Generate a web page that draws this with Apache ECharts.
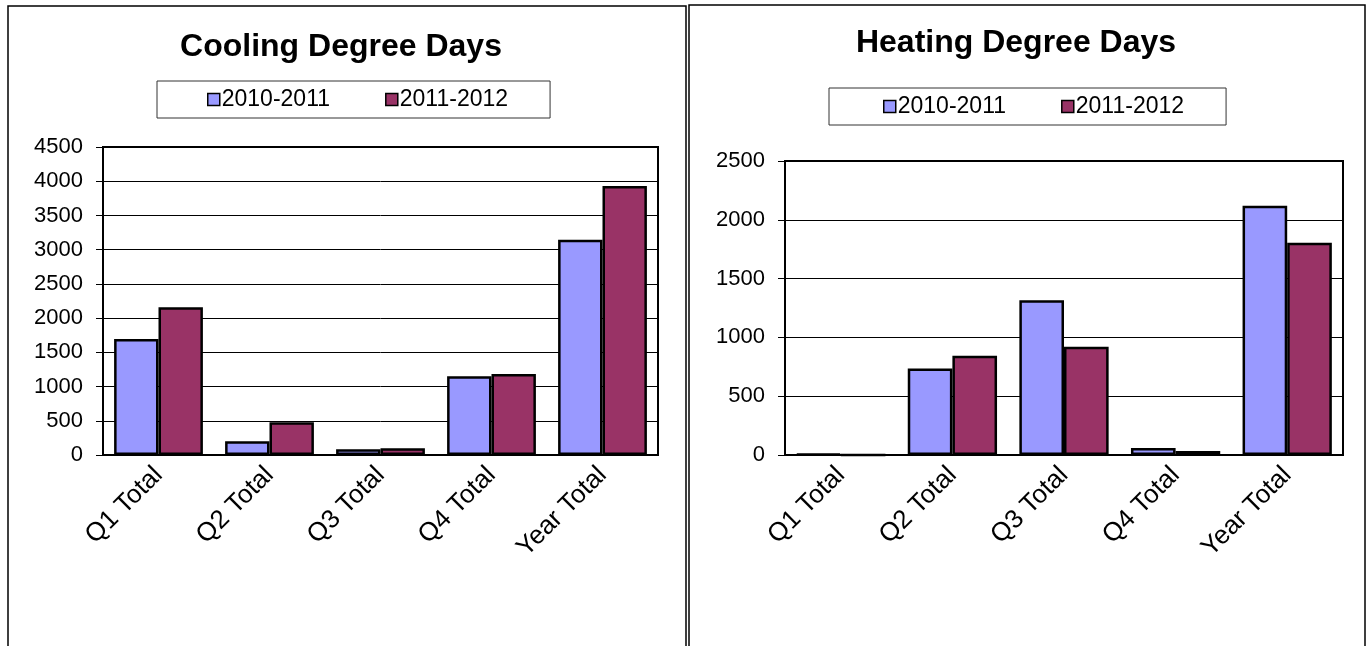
<!DOCTYPE html>
<html>
<head>
<meta charset="utf-8">
<script src="https://cdn.jsdelivr.net/npm/echarts@6/dist/echarts.min.js"></script>
<style>
  html, body { margin: 0; padding: 0; background: #fff; }
  #main { width: 1368px; height: 646px; }
</style>
</head>
<body>
<div id="main"></div>
<script>
'use strict';

const categories = ['Q1 Total', 'Q2 Total', 'Q3 Total', 'Q4 Total', 'Year Total'];
const seriesNames = ['2010-2011', '2011-2012'];

// cooling degree days
const cooling2010 = [1695, 200, 85, 1150, 3145];
const cooling2011 = [2160, 480, 100, 1185, 3930];

// heating degree days
const heating2010 = [10, 735, 1315, 60, 2120];
const heating2011 = [0, 845, 920, 35, 1805];

const FONT = '"Liberation Sans", Arial, sans-serif';
const colBlue = '#9999FF';
const colRed = '#993366';

const chart = echarts.init(document.getElementById('main'), null, { renderer: 'canvas' });

function makeBar(name, data, color, idx) {
    return {
        name: name,
        type: 'bar',
        xAxisIndex: idx,
        yAxisIndex: idx,
        data: data,
        barGap: '0%',
        barCategoryGap: '20%',
        animation: false,
        itemStyle: {
            color: color,
            borderColor: '#000',
            borderWidth: 2.5
        }
    };
}

function makeXAxis(idx) {
    return {
        type: 'category',
        gridIndex: idx,
        data: categories,
        axisLine: { lineStyle: { color: '#000', width: 2 } },
        axisTick: { length: 7, lineStyle: { color: '#000', width: 1 } },
        axisLabel: {
            rotate: 45,
            margin: 16,
            color: '#000',
            fontSize: 26,
            fontFamily: FONT,
            interval: 0
        }
    };
}

function makeYAxis(idx, max) {
    return {
        type: 'value',
        gridIndex: idx,
        min: 0,
        max: max,
        interval: 500,
        axisLine: { show: true, lineStyle: { color: '#000', width: 2 } },
        axisTick: { show: true, length: 7, lineStyle: { color: '#000', width: 1 } },
        splitLine: { lineStyle: { color: '#000', width: 1 } },
        axisLabel: {
            margin: 20,
            color: '#000',
            fontSize: 22,
            fontFamily: FONT,
            formatter: v => String(v)
        }
    };
}

function makeLegend(left, top, padding) {
    return {
        left: left,
        top: top,
        data: seriesNames,
        selectedMode: false,
        icon: 'rect',
        itemWidth: 12,
        itemHeight: 12,
        itemGap: 55,
        padding: padding,
        borderColor: '#333',
        borderWidth: 1,
        textStyle: { fontSize: 23, fontFamily: FONT, color: '#000', padding: [0, 0, 0, -3] },
        itemStyle: { borderColor: '#000', borderWidth: 1.5 }
    };
}

const option = {
    backgroundColor: '#fff',
    animation: false,
    graphic: [
        { type: 'rect', shape: { x: 8, y: 6, width: 678, height: 700 }, style: { fill: 'none', stroke: '#000', lineWidth: 1.5 } },
        { type: 'rect', shape: { x: 689, y: 5, width: 676, height: 700 }, style: { fill: 'none', stroke: '#000', lineWidth: 1.5 } }
    ],
    title: [{
        text: 'Cooling Degree Days',
        left: 336,
        top: 26,
        textAlign: 'center',
        textStyle: { fontSize: 32, fontWeight: 'bold', fontFamily: FONT, color: '#000' }
    }, {
        text: 'Heating Degree Days',
        left: 1011,
        top: 22,
        textAlign: 'center',
        textStyle: { fontSize: 32, fontWeight: 'bold', fontFamily: FONT, color: '#000' }
    }],
    legend: [
        makeLegend(157, 81, [7, 42, 7, 50]),
        makeLegend(829, 88, [7, 42, 7, 54])
    ],
    grid: [{
        left: 103, top: 147, width: 555, height: 308,
        show: true, borderColor: '#000', borderWidth: 2, backgroundColor: '#fff'
    }, {
        left: 785, top: 161, width: 558, height: 294,
        show: true, borderColor: '#000', borderWidth: 2, backgroundColor: '#fff'
    }],
    xAxis: [makeXAxis(0), makeXAxis(1)],
    yAxis: [makeYAxis(0, 4500), makeYAxis(1, 2500)],
    series: [
        makeBar(seriesNames[0], cooling2010, colBlue, 0),
        makeBar(seriesNames[1], cooling2011, colRed, 0),
        makeBar(seriesNames[0], heating2010, colBlue, 1),
        makeBar(seriesNames[1], heating2011, colRed, 1)
    ]
};

chart.setOption(option);
</script>
</body>
</html>
